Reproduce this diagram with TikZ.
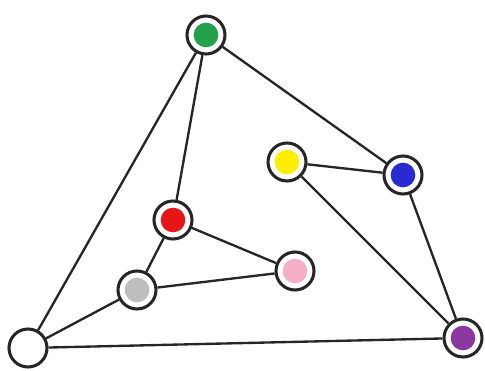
\documentclass[tikz,border=0pt]{standalone}
\usepackage{xcolor}
\usepackage{tikz}
\definecolor{vgreen}{HTML}{22A04A}
\definecolor{vblue}{HTML}{2A2AD2}
\definecolor{vyellow}{HTML}{FFEE00}
\definecolor{vred}{HTML}{E41616}
\definecolor{vpink}{HTML}{F4AEC8}
\definecolor{vgray}{HTML}{BEBEBE}
\definecolor{vpurple}{HTML}{8C36A0}

\begin{document}
\begin{tikzpicture}[
  x=0.03cm, y=-0.03cm,
  vert/.style={circle, draw=black!85, line width=2.6pt, fill=white,
               minimum size=1.14cm, inner sep=0pt,
               path picture={\fill[#1] (path picture bounding box.center) circle (0.37cm);}},
  edge/.style={draw=black!85, line width=2pt},
]
\useasboundingbox (0,0) rectangle (485,370);

\node[vert=vgreen]  (green)  at (206,35)  {};
\node[vert=vyellow] (yellow) at (287,162) {};
\node[vert=vblue]   (blue)   at (403,175) {};
\node[vert=vred]    (red)    at (173,220) {};
\node[vert=vpink]   (pink)   at (295,271) {};
\node[vert=vgray]   (gray)   at (137,290) {};
\node[vert=white]   (white)  at (28,348)  {};
\node[vert=vpurple] (purple) at (463,338) {};

\draw[edge] (green) -- (white);
\draw[edge] (green) -- (red);
\draw[edge] (green) -- (blue);
\draw[edge] (yellow) -- (blue);
\draw[edge] (yellow) -- (purple);
\draw[edge] (blue) -- (purple);
\draw[edge] (red) -- (pink);
\draw[edge] (red) -- (gray);
\draw[edge] (gray) -- (pink);
\draw[edge] (gray) -- (white);
\draw[edge] (white) -- (purple);
\end{tikzpicture}
\end{document}
